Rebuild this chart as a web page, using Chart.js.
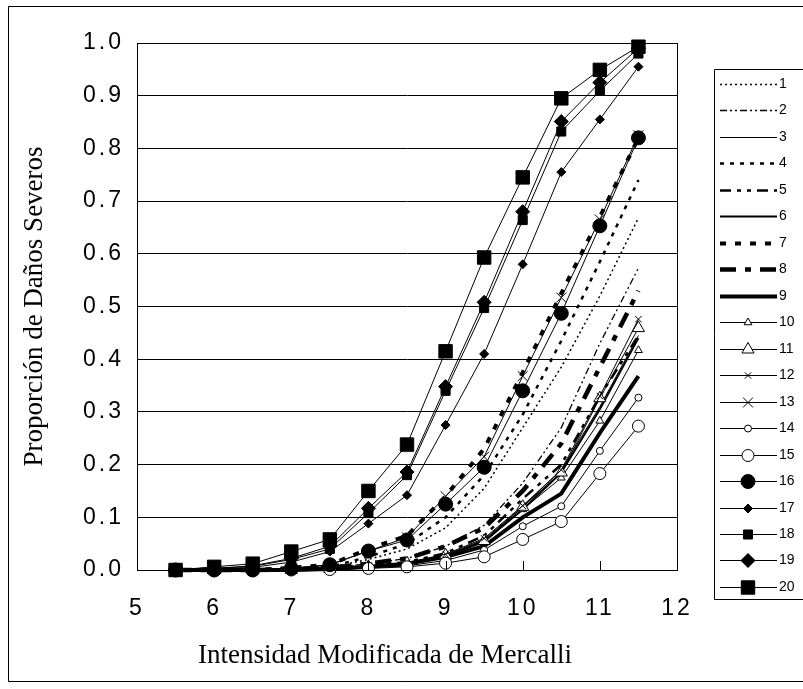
<!DOCTYPE html>
<html>
<head>
<meta charset="utf-8">
<script src="https://cdn.jsdelivr.net/npm/chart.js@4.4.0/dist/chart.umd.min.js"></script>
<style>
html, body { margin: 0; padding: 0; background: #fff; }
</style>
</head>
<body>
<canvas id="chart" width="803" height="689"></canvas>
<script>
// Intensidad Modificada de Mercalli (x) vs proporcion de danos severos (y)
var intensity = [5.5, 6, 6.5, 7, 7.5, 8, 8.5, 9, 9.5, 10, 10.5, 11, 11.5];
var xTicks = [5, 6, 7, 8, 9, 10, 11, 12];
var seriesNames = ['1','2','3','4','5','6','7','8','9','10','11','12','13','14','15','16','17','18','19','20'];
var xTitle = 'Intensidad Modificada de Mercalli';
var yTitle = 'Proporción de Daños Severos';

var s1  = [0, 0, 0, 0.002, 0.005, 0.020, 0.040, 0.080, 0.155, 0.270, 0.385, 0.520, 0.668];
var s2  = [0, 0, 0, 0.001, 0.004, 0.012, 0.022, 0.045, 0.085, 0.165, 0.270, 0.430, 0.573];
var s3  = [0, 0, 0, 0, 0.002, 0.006, 0.012, 0.028, 0.058, 0.120, 0.190, 0.310, 0.445];
var s4  = [0, 0, 0, 0.002, 0.006, 0.025, 0.050, 0.100, 0.180, 0.295, 0.435, 0.585, 0.740];
var s5  = [0, 0, 0, 0, 0.003, 0.008, 0.015, 0.032, 0.065, 0.135, 0.200, 0.330, 0.445];
var s6  = [0, 0, 0, 0, 0.002, 0.006, 0.012, 0.027, 0.055, 0.115, 0.185, 0.305, 0.440];
var s7  = [0, 0, 0, 0.004, 0.010, 0.040, 0.065, 0.140, 0.230, 0.375, 0.525, 0.670, 0.820];
var s8  = [0, 0, 0, 0.001, 0.004, 0.012, 0.022, 0.045, 0.080, 0.150, 0.240, 0.385, 0.530];
var s9  = [0, 0, 0, 0, 0.002, 0.006, 0.012, 0.025, 0.045, 0.100, 0.145, 0.260, 0.368];
var s10 = [0, 0, 0, 0, 0.002, 0.006, 0.012, 0.026, 0.052, 0.115, 0.175, 0.283, 0.417];
var s11 = [0, 0, 0, 0, 0.002, 0.006, 0.013, 0.028, 0.055, 0.120, 0.185, 0.326, 0.459];
var s12 = [0, 0, 0, 0, 0.002, 0.007, 0.014, 0.030, 0.060, 0.122, 0.190, 0.330, 0.476];
var s13 = [0, 0, 0, 0.003, 0.010, 0.036, 0.062, 0.140, 0.215, 0.368, 0.517, 0.665, 0.825];
var s14 = [0, 0, 0, 0, 0.001, 0.004, 0.008, 0.018, 0.038, 0.083, 0.121, 0.226, 0.327];
var s15 = [0, 0, 0, 0, 0.001, 0.003, 0.006, 0.013, 0.025, 0.058, 0.092, 0.183, 0.273];
var s16 = [0, 0, 0, 0.003, 0.010, 0.036, 0.057, 0.125, 0.195, 0.340, 0.487, 0.653, 0.820];
var s17 = [0, 0.002, 0.005, 0.015, 0.035, 0.088, 0.142, 0.275, 0.410, 0.580, 0.755, 0.855, 0.955];
var s18 = [0, 0.003, 0.007, 0.020, 0.040, 0.108, 0.180, 0.340, 0.497, 0.664, 0.832, 0.909, 0.980];
var s19 = [0, 0.003, 0.008, 0.022, 0.045, 0.117, 0.186, 0.348, 0.508, 0.680, 0.851, 0.925, 0.990];
var s20 = [0, 0.006, 0.012, 0.035, 0.058, 0.150, 0.238, 0.415, 0.593, 0.745, 0.895, 0.949, 0.993];

var allSeries = [s1, s2, s3, s4, s5, s6, s7, s8, s9, s10, s11, s12, s13, s14, s15, s16, s17, s18, s19, s20];

// line width, dash, marker, marker radius, marker fill
var styles = [
    { w: 1.5, dash: [2, 3] },
    { w: 1.3, dash: [7, 3, 2, 3, 2, 3] },
    { w: 1, dash: [] },
    { w: 2.5, dash: [4, 6] },
    { w: 2.5, dash: [11, 6, 4, 6, 4, 6] },
    { w: 2, dash: [] },
    { w: 4, dash: [6, 9] },
    { w: 4.5, dash: [16, 9, 6, 9] },
    { w: 4, dash: [] },
    { w: 1, dash: [], pt: 'triangle', r: 4.5, fill: '#fff' },
    { w: 1, dash: [], pt: 'triangle', r: 7, fill: '#fff' },
    { w: 1, dash: [], pt: 'crossRot', r: 4.5, fill: '#fff' },
    { w: 1, dash: [], pt: 'crossRot', r: 7, fill: '#fff' },
    { w: 1, dash: [], pt: 'circle', r: 3.5, fill: '#fff' },
    { w: 1, dash: [], pt: 'circle', r: 6, fill: '#fff' },
    { w: 1, dash: [], pt: 'circle', r: 7, fill: '#000' },
    { w: 1, dash: [], pt: 'rectRot', r: 4.5, fill: '#000' },
    { w: 1, dash: [], pt: 'rect', r: 6.4, fill: '#000' },
    { w: 1, dash: [], pt: 'rectRot', r: 7, fill: '#000' },
    { w: 1, dash: [], pt: 'rect', r: 9.5, fill: '#000' }
];

var datasets = allSeries.map(function (vals, i) {
    var st = styles[i];
    return {
        label: seriesNames[i],
        data: vals.map(function (v, j) { return { x: intensity[j], y: v }; }),
        borderColor: '#000',
        borderWidth: st.w,
        borderDash: st.dash,
        tension: 0,
        fill: false,
        clip: false,
        order: 19 - i,
        pointStyle: st.pt || 'circle',
        pointRadius: st.pt ? st.r : 0,
        pointHoverRadius: st.pt ? st.r : 0,
        pointBackgroundColor: st.fill || '#000',
        pointBorderColor: '#000',
        pointBorderWidth: 1
    };
});

var frame = {
    id: 'frame',
    beforeDraw: function (chart) {
        var ctx = chart.ctx;
        ctx.save();
        ctx.fillStyle = '#fff';
        ctx.fillRect(0, 0, chart.width, chart.height);
        ctx.restore();
        // tick labels are slightly spaced out in the original
        ctx.letterSpacing = '3px';
    },
    afterDraw: function (chart) {
        var ctx = chart.ctx;
        var a = chart.chartArea;
        var xs = chart.scales.x;
        ctx.letterSpacing = '0px';
        ctx.save();
        ctx.strokeStyle = '#000';
        ctx.lineWidth = 1;
        ctx.setLineDash([]);

        // outer border
        ctx.beginPath();
        ctx.moveTo(803, 6.5); ctx.lineTo(8.5, 6.5); ctx.lineTo(8.5, 681.5); ctx.lineTo(803, 681.5);
        ctx.stroke();

        // plot box
        ctx.strokeRect(Math.round(a.left) + 0.5, Math.round(a.top) + 0.5,
            Math.round(a.right - a.left), Math.round(a.bottom - a.top));

        // inward tick marks on x axis
        xTicks.forEach(function (t) {
            var px = Math.round(xs.getPixelForValue(t)) + 0.5;
            ctx.beginPath();
            ctx.moveTo(px, a.bottom);
            ctx.lineTo(px, a.bottom - 9);
            ctx.stroke();
        });

        // axis titles
        ctx.fillStyle = '#000';
        ctx.font = '27px "Liberation Serif", "Times New Roman", serif';
        ctx.textAlign = 'center';
        ctx.textBaseline = 'middle';
        ctx.fillText(xTitle, 385, 656);
        ctx.save();
        ctx.translate(35, (a.top + a.bottom) / 2);
        ctx.rotate(-Math.PI / 2);
        ctx.fillText(yTitle, 0, 0);
        ctx.restore();

        // legend
        var lx = 714, ly = 69, lb = 599;
        ctx.beginPath();
        ctx.moveTo(803, ly + 0.5); ctx.lineTo(lx + 0.5, ly + 0.5); ctx.lineTo(lx + 0.5, lb + 0.5); ctx.lineTo(803, lb + 0.5);
        ctx.stroke();
        ctx.font = '14px "Liberation Sans", Arial, sans-serif';
        ctx.textAlign = 'left';
        ctx.textBaseline = 'middle';
        chart.data.datasets.forEach(function (ds, i) {
            var y = Math.round(84 + i * 26.47) + 0.5;
            ctx.strokeStyle = '#000';
            ctx.lineWidth = ds.borderWidth;
            ctx.setLineDash(ds.borderDash);
            ctx.beginPath();
            ctx.moveTo(720, y);
            ctx.lineTo(777, y);
            ctx.stroke();
            ctx.setLineDash([]);
            if (ds.pointRadius > 0) {
                ctx.lineWidth = 1;
                ctx.fillStyle = ds.pointBackgroundColor;
                Chart.helpers.drawPoint(ctx, {
                    pointStyle: ds.pointStyle, radius: ds.pointRadius, rotation: 0, borderWidth: 1
                }, 748, y);
            }
            ctx.fillStyle = '#000';
            ctx.fillText(ds.label, 779, y);
        });
        ctx.restore();
    }
};

new Chart(document.getElementById('chart'), {
    type: 'line',
    data: { datasets: datasets },
    options: {
        responsive: false,
        animation: false,
        devicePixelRatio: 1,
        layout: { padding: { left: 0, top: 43, right: 126, bottom: 0 } },
        plugins: { legend: { display: false }, tooltip: { enabled: false } },
        scales: {
            x: {
                type: 'linear',
                min: 5,
                max: 12,
                afterBuildTicks: function (scale) {
                    scale.ticks = xTicks.map(function (t) { return { value: t }; });
                },
                afterFit: function (scale) { scale.height = 119; },
                grid: { display: false, drawTicks: false },
                border: { display: true, color: '#000', width: 1 },
                ticks: {
                    color: '#000',
                    padding: 25,
                    maxRotation: 0,
                    autoSkip: false,
                    font: { family: '"Liberation Sans", Arial, sans-serif', size: 23 }
                },
                title: { display: false }
            },
            y: {
                min: 0,
                max: 1,
                afterFit: function (scale) { scale.width = 137; },
                grid: { color: '#000', lineWidth: 1, drawTicks: false },
                border: { display: true, color: '#000', width: 1 },
                ticks: {
                    stepSize: 0.1,
                    color: '#000',
                    padding: 13,
                    autoSkip: false,
                    font: { family: '"Liberation Sans", Arial, sans-serif', size: 23 },
                    callback: function (v) { return Number(v).toFixed(1); }
                },
                title: { display: false }
            }
        }
    },
    plugins: [frame]
});
</script>
</body>
</html>
